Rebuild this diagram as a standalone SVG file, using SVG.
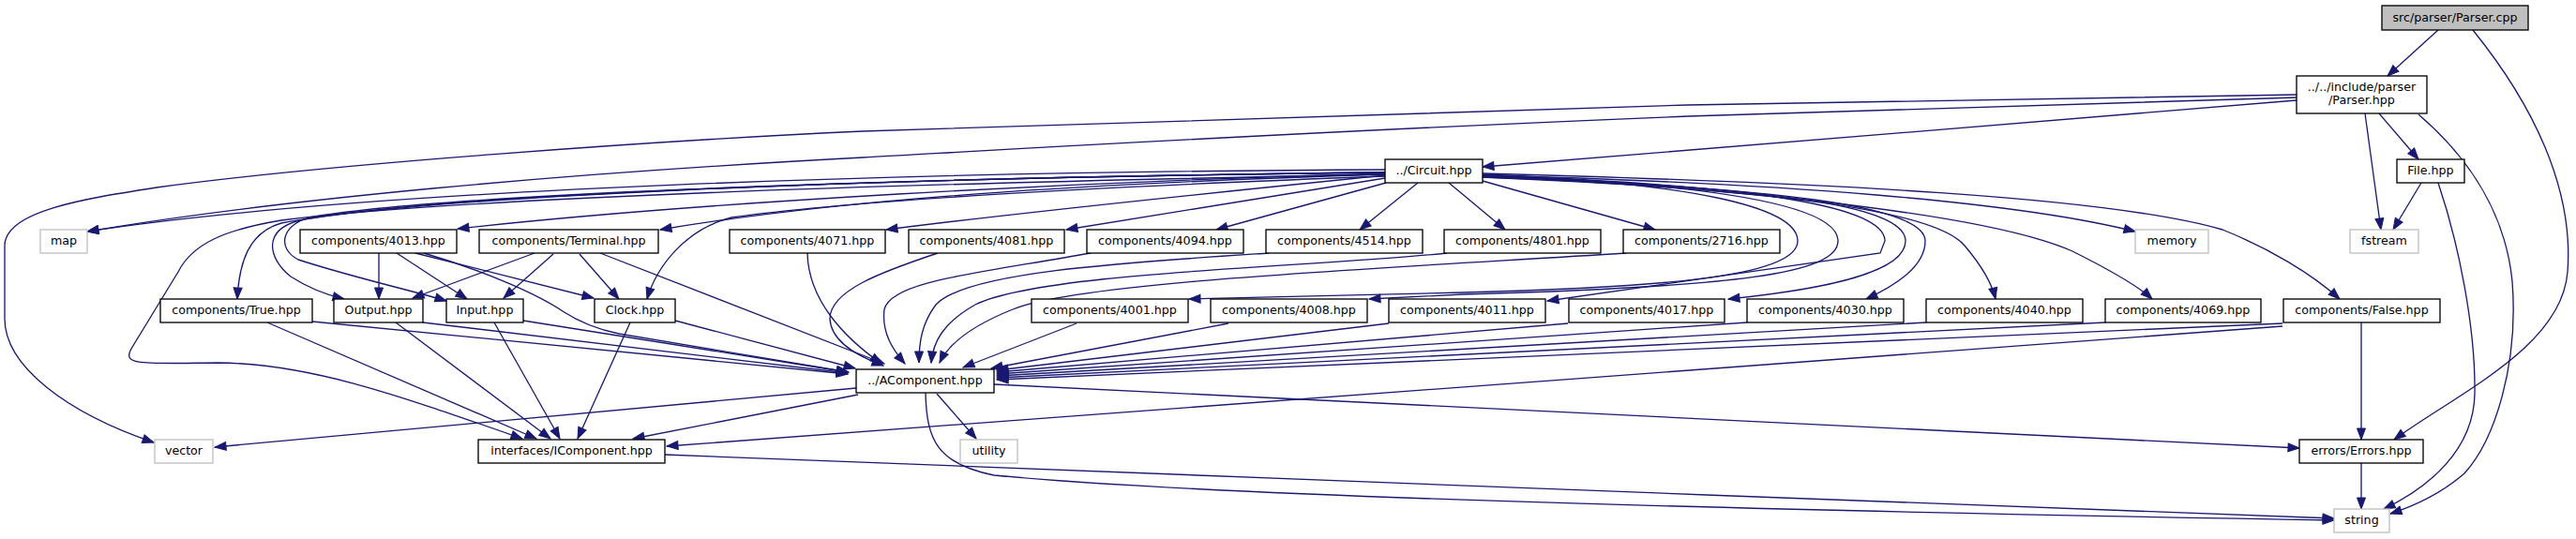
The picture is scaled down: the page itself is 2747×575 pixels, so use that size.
<svg xmlns="http://www.w3.org/2000/svg" width="2747" height="575" viewBox="0 0 2747 575">
<style>
.n rect{fill:#fff;stroke:#000;stroke-width:1.33}
.g rect{fill:#fff;stroke:#bfbfbf;stroke-width:1.33}
.r rect{fill:#bfbfbf;stroke:#000;stroke-width:1.33}
text{font-family:"DejaVu Sans",sans-serif;font-size:12.67px;text-anchor:middle;fill:#000}
#edges path{fill:none;stroke:#191970;stroke-width:1.33;marker-end:url(#a)}
</style>
<defs>
<marker id="a" markerUnits="userSpaceOnUse" markerWidth="14" markerHeight="10" refX="12" refY="4.5" orient="auto" overflow="visible">
<path d="M0,0 L12,4.5 L0,9 z" fill="#191970" stroke="#191970" stroke-width="1"/>
</marker>
</defs>
<rect x="0" y="0" width="2747" height="575" fill="#fff"/>
<g id="edges">
<path d="M2600,32 L2546,81"/>
<path d="M2637,32 C2700,110 2745,200 2738,290 C2732,370 2620,420 2553,469"/>
<path d="M2449,107 C2200,128 1800,160 1581,178"/>
<path d="M2449,104 L1800,124 C1400,140 1100,158 920,168 C600,185 300,212 93,247"/>
<path d="M2449,101 L1800,112 C1400,122 1100,134 920,140 C700,150 350,175 167,200 C90,212 5,225 5,262 L5,340 C5,390 70,440 164,472"/>
<path d="M2522,121 L2539,245"/>
<path d="M2537,121 L2579,170"/>
<path d="M2579,122 C2635,170 2672,230 2679,300 C2686,390 2660,470 2628,505 C2605,525 2580,538 2549,548"/>
<path d="M2582,195 L2552,245"/>
<path d="M2600,195 C2622,260 2640,350 2639,420 C2638,480 2590,520 2542,543"/>
<path d="M1581,187 C1900,195 2150,215 2277,247"/>
<path d="M1581,185 C1950,195 2250,210 2370,245 C2420,265 2465,292 2495,319"/>
<path d="M1581,188 C1850,200 2120,228 2210,268 C2250,288 2280,305 2295,319"/>
<path d="M1581,189 C1850,200 2060,220 2095,262 C2112,282 2124,302 2128,319"/>
<path d="M1581,189 C1900,200 2053,220 2053,257 C2053,285 2020,305 1990,319"/>
<path d="M1581,188 C1900,200 2032,220 2032,257 C2032,290 1950,308 1843,319"/>
<path d="M1581,187 C1890,198 2010,222 2010,257 L2005,270 L1650,321"/>
<path d="M1581,187 C1850,197 1960,222 1960,257 C1960,292 1850,306 1560,314 L1460,319"/>
<path d="M1581,186 C1800,195 1917,220 1917,257 C1917,292 1800,306 1560,312 L1268,319"/>
<path d="M1581,193 L1765,245"/>
<path d="M1545,195 L1605,245"/>
<path d="M1512,195 L1450,245"/>
<path d="M1478,195 L1297,245"/>
<path d="M1477,190 L1137,245"/>
<path d="M1477,187 C1300,205 1100,225 945,245"/>
<path d="M1477,186 C1150,196 900,212 704,245"/>
<path d="M1477,185 C1150,194 750,215 488,244"/>
<path d="M1477,181 C1000,183 400,200 93,247"/>
<path d="M1477,184 C900,190 450,210 300,238 C265,248 255,280 253,319"/>
<path d="M1477,184 C900,190 450,210 320,235 C280,245 285,275 310,295 C330,308 350,315 367,319"/>
<path d="M1477,184 C900,190 450,210 330,232 C300,240 295,265 318,277 C380,297 440,310 476,321"/>
<path d="M1477,188 C1150,200 900,215 780,232 C730,245 700,285 690,319"/>
<path d="M1477,186 C1000,195 500,210 300,235 C240,245 205,260 190,290 L140,372 C130,390 150,388 233,387 C330,388 420,420 557,468"/>
<path d="M861,270 C862,320 900,360 940,388"/>
<path d="M1000,270 C940,290 885,310 885,340 C886,365 915,380 942,390"/>
<path d="M1163,270 C1040,292 950,300 943,330 C940,355 952,373 965,388"/>
<path d="M1353,270 C1200,280 1030,290 998,325 C983,345 980,365 980,387"/>
<path d="M1543,270 C1400,285 1110,290 1040,325 C1005,345 995,365 993,387"/>
<path d="M1734,270 C1500,285 1150,300 1080,330 C1030,350 1010,370 1002,387"/>
<path d="M640,270 L943,388"/>
<path d="M452,270 C520,290 575,315 600,332 C620,345 640,352 660,356 L905,397"/>
<path d="M333,343 L904,399"/>
<path d="M451,344 L904,398"/>
<path d="M558,342 L904,397"/>
<path d="M720,342 L912,393"/>
<path d="M404,270 L404,319"/>
<path d="M423,270 L498,319"/>
<path d="M443,270 L633,318"/>
<path d="M570,270 L440,318"/>
<path d="M590,271 L537,318"/>
<path d="M618,271 L660,319"/>
<path d="M285,344 L572,468"/>
<path d="M422,344 L587,468"/>
<path d="M527,344 L597,468"/>
<path d="M672,344 L616,468"/>
<path d="M1148,345 L1027,392"/>
<path d="M1310,345 L1057,393"/>
<path d="M1481,345 L1063,395"/>
<path d="M1672,345 L1063,397"/>
<path d="M1863,344 L1063,399"/>
<path d="M2054,344 L1063,401"/>
<path d="M2245,344 L1063,403"/>
<path d="M2434,345 L1063,405"/>
<path d="M2434,348 L711,476"/>
<path d="M2518,344 L2518,469"/>
<path d="M913,414 L229,477"/>
<path d="M915,421 L675,468"/>
<path d="M999,420 L1041,468"/>
<path d="M1060,410 L2452,478"/>
<path d="M987,419 C988,470 1000,495 1060,507 C1300,530 1900,545 2489,555"/>
<path d="M709,485 L1820,528 C2100,538 2350,548 2489,553"/>
<path d="M2518,494 L2518,543"/>
</g>
<g id="n-parsercpp" class="r"><rect x="2540" y="6" width="156" height="26"/><text x="2618" y="23">src/parser/Parser.cpp</text></g>
<g id="n-parserhpp" class="n"><rect x="2449" y="81" width="139" height="40"/><text x="2518.5" y="96.5">../../include/parser</text><text x="2518.5" y="111">/Parser.hpp</text></g>
<g id="n-circuit" class="n"><rect x="1477" y="170" width="104" height="25"/><text x="1529" y="186">../Circuit.hpp</text></g>
<g id="n-file" class="n"><rect x="2556" y="170" width="72" height="25"/><text x="2592" y="186">File.hpp</text></g>
<g id="n-map" class="g"><rect x="43" y="245" width="50" height="25"/><text x="68" y="261">map</text></g>
<g id="n-4013" class="n"><rect x="320" y="245" width="167" height="25"/><text x="403.5" y="261">components/4013.hpp</text></g>
<g id="n-terminal" class="n"><rect x="511" y="245" width="191" height="25"/><text x="606.5" y="261">components/Terminal.hpp</text></g>
<g id="n-4071" class="n"><rect x="778" y="245" width="166" height="25"/><text x="861" y="261">components/4071.hpp</text></g>
<g id="n-4081" class="n"><rect x="969" y="245" width="166" height="25"/><text x="1052" y="261">components/4081.hpp</text></g>
<g id="n-4094" class="n"><rect x="1159" y="245" width="167" height="25"/><text x="1242.5" y="261">components/4094.hpp</text></g>
<g id="n-4514" class="n"><rect x="1350" y="245" width="167" height="25"/><text x="1433.5" y="261">components/4514.hpp</text></g>
<g id="n-4801" class="n"><rect x="1540" y="245" width="167" height="25"/><text x="1623.5" y="261">components/4801.hpp</text></g>
<g id="n-2716" class="n"><rect x="1731" y="245" width="167" height="25"/><text x="1814.5" y="261">components/2716.hpp</text></g>
<g id="n-memory" class="g"><rect x="2277" y="245" width="78" height="25"/><text x="2316" y="261">memory</text></g>
<g id="n-fstream" class="g"><rect x="2506" y="245" width="73" height="25"/><text x="2542.5" y="261">fstream</text></g>
<g id="n-true" class="n"><rect x="171" y="319" width="162" height="25"/><text x="252" y="335">components/True.hpp</text></g>
<g id="n-output" class="n"><rect x="356" y="319" width="95" height="25"/><text x="403.5" y="335">Output.hpp</text></g>
<g id="n-input" class="n"><rect x="476" y="319" width="82" height="25"/><text x="517" y="335">Input.hpp</text></g>
<g id="n-clock" class="n"><rect x="634" y="319" width="86" height="25"/><text x="677" y="335">Clock.hpp</text></g>
<g id="n-4001" class="n"><rect x="1100" y="319" width="167" height="25"/><text x="1183.5" y="335">components/4001.hpp</text></g>
<g id="n-4008" class="n"><rect x="1291" y="319" width="167" height="25"/><text x="1374.5" y="335">components/4008.hpp</text></g>
<g id="n-4011" class="n"><rect x="1481" y="319" width="167" height="25"/><text x="1564.5" y="335">components/4011.hpp</text></g>
<g id="n-4017" class="n"><rect x="1673" y="319" width="166" height="25"/><text x="1756" y="335">components/4017.hpp</text></g>
<g id="n-4030" class="n"><rect x="1863" y="319" width="167" height="25"/><text x="1946.5" y="335">components/4030.hpp</text></g>
<g id="n-4040" class="n"><rect x="2054" y="319" width="167" height="25"/><text x="2137.5" y="335">components/4040.hpp</text></g>
<g id="n-4069" class="n"><rect x="2245" y="319" width="166" height="25"/><text x="2328" y="335">components/4069.hpp</text></g>
<g id="n-false" class="n"><rect x="2435" y="319" width="167" height="25"/><text x="2518.5" y="335">components/False.hpp</text></g>
<g id="n-acomponent" class="n"><rect x="913" y="394" width="147" height="25"/><text x="986.5" y="410">../AComponent.hpp</text></g>
<g id="n-vector" class="g"><rect x="165" y="469" width="62" height="25"/><text x="196" y="485">vector</text></g>
<g id="n-icomponent" class="n"><rect x="510" y="469" width="199" height="25"/><text x="609.5" y="485">interfaces/IComponent.hpp</text></g>
<g id="n-utility" class="g"><rect x="1024" y="469" width="61" height="25"/><text x="1054.5" y="485">utility</text></g>
<g id="n-errors" class="n"><rect x="2452" y="469" width="132" height="25"/><text x="2518" y="485">errors/Errors.hpp</text></g>
<g id="n-string" class="g"><rect x="2489" y="543" width="59" height="25"/><text x="2518.5" y="559">string</text></g>
</svg>
